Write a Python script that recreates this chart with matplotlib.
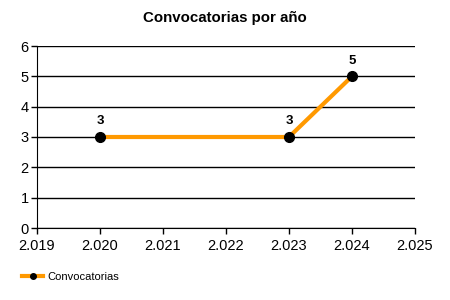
import matplotlib
matplotlib.use("Agg")
import matplotlib.pyplot as plt
from matplotlib.ticker import FuncFormatter, MultipleLocator
from matplotlib.lines import Line2D

# --- Datos ---
anios = [2020, 2023, 2024]
convocatorias = [3, 3, 5]
titulo = "Convocatorias por año"
serie = "Convocatorias"

plt.rcParams['font.family'] = ['Liberation Sans', 'DejaVu Sans']

fig = plt.figure(figsize=(4.5, 3), dpi=100)
ax = fig.add_axes([37/450, 1 - 228/300, (415 - 37)/450, (228 - 46)/300])

ax.plot(anios, convocatorias, color='#FF9900', lw=3, zorder=3)
ax.plot(anios, convocatorias, 'o', color='black', ms=7, zorder=4)

# Etiquetas de valores
for x, y in zip(anios, convocatorias):
    ax.annotate(str(y), (x, y), xytext=(0, 7), textcoords='offset points',
                ha='center', va='bottom', fontsize=9.5, fontweight='bold')

ax.set_xlim(2019, 2025)
ax.set_ylim(0, 6)
ax.xaxis.set_major_locator(MultipleLocator(1))
ax.yaxis.set_major_locator(MultipleLocator(1))
ax.xaxis.set_major_formatter(FuncFormatter(lambda v, p: f"{int(v):,}".replace(",", ".")))

ax.grid(axis='y', color='black', lw=1)
ax.set_axisbelow(True)
for s in ['top', 'right']:
    ax.spines[s].set_visible(False)
ax.tick_params(labelsize=10.5, length=4, width=1, colors='black')
ax.tick_params(axis='x', pad=4)
ax.tick_params(axis='y', pad=2)

fig.text(225/450, 1 - 18/300, titulo, ha='center', va='center', fontsize=10.8, fontweight='bold')

handle = Line2D([], [], color='#FF9900', lw=3, marker='o', markersize=4,
                markerfacecolor='black', markeredgecolor='black')
fig.legend([handle], [serie], loc='center left', bbox_to_anchor=(0.049, 1 - 277/300),
           frameon=False, fontsize=8, handlelength=1.9, handletextpad=0.4,
           borderpad=0, borderaxespad=0)

fig.savefig("out.png", dpi=100)
